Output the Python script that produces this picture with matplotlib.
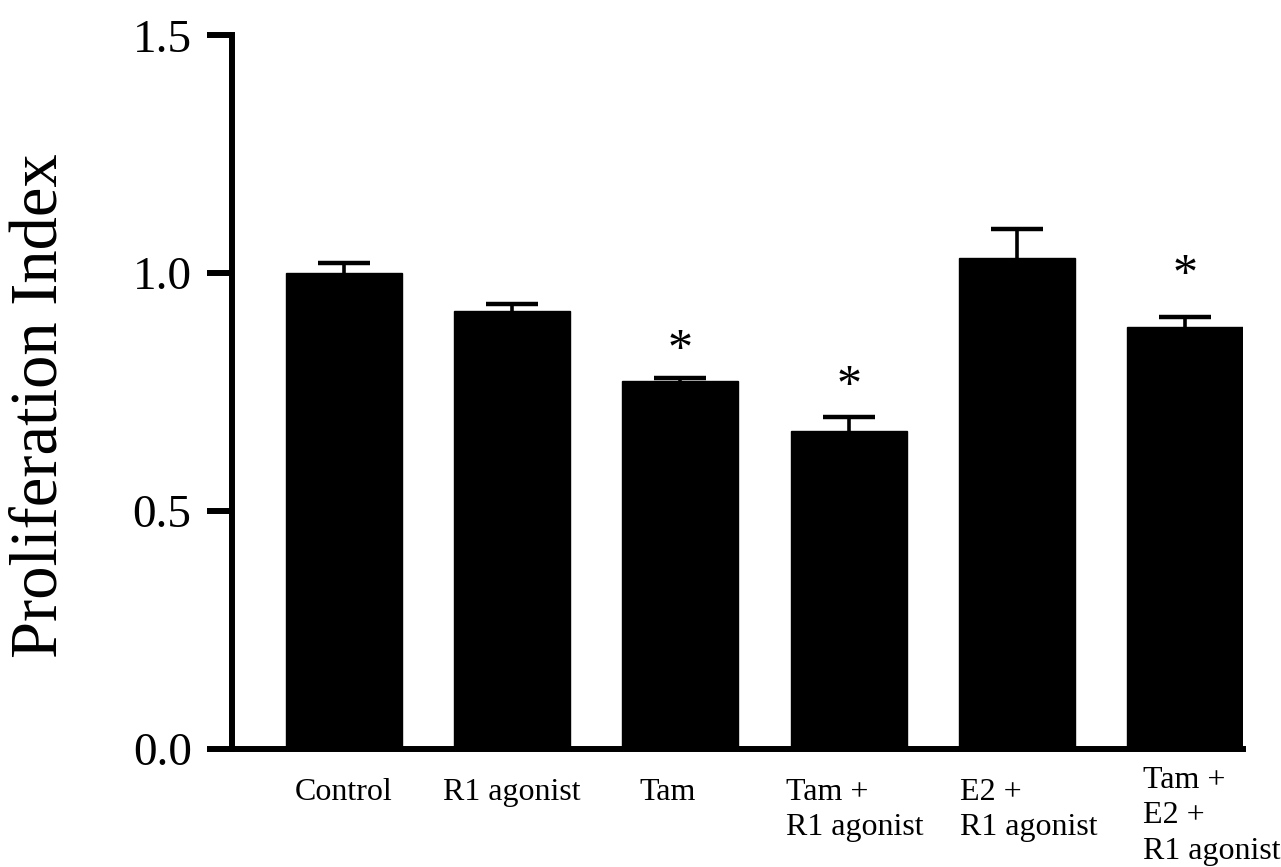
import matplotlib
matplotlib.use("Agg")
import matplotlib.pyplot as plt
import matplotlib.transforms as mtransforms
import numpy as np

categories = ["Control", "R1 agonist", "Tam", "Tam +\nR1 agonist", "E2 +\nR1 agonist", "Tam +\nE2 +\nR1 agonist"]
means = [1.000, 0.921, 0.773, 0.668, 1.032, 0.886]
sem = [0.022, 0.013, 0.006, 0.030, 0.060, 0.022]
significant = [False, False, True, True, False, True]
star_y = [None, None, 0.865, 0.790, None, 1.023]
y_ticks = [0.0, 0.5, 1.0, 1.5]
y_tick_labels = ["0.0", "0.5", "1.0", "1.5"]

plt.rcParams['font.family'] = ['Liberation Serif', 'DejaVu Serif']

fig = plt.figure(figsize=(12.81, 8.67), dpi=100)
ax = fig.add_axes([232/1281, 1 - 748.5/867, (1243-232)/1281, (748.5-35.3)/867])

x = np.arange(len(categories))
ax.bar(x, means, width=0.69, color='black', edgecolor='black', zorder=3)
eb = ax.errorbar(x, means, yerr=[np.zeros(len(means)), sem], fmt='none', ecolor='black',
                 elinewidth=2.6, capsize=19, capthick=3.2, zorder=2)
caplines = eb[1]
if len(caplines) == 2:
    caplines[0].set_visible(False)

fs_star = 36
for xi, sy, sig in zip(x, star_y, significant):
    if sig:
        ax.annotate('*', xy=(xi, sy), xytext=(0, -0.52 * fs_star * 100 / 72),
                    textcoords='offset pixels', ha='center', va='baseline',
                    fontsize=fs_star)

ax.set_ylim(0, 1.5)
ax.set_xlim(-0.666, 5.345)
ax.set_yticks(y_ticks)
ax.set_yticklabels(y_tick_labels, fontsize=34)
ax.tick_params(axis='y', length=18, width=4.3, pad=11, direction='out')
ax.set_xticks(x)
ax.set_xticklabels(categories, fontsize=23, linespacing=1.3, multialignment='left')
ax.tick_params(axis='x', length=0, pad=21)

label_dx = [0, 0, -13, 6, 12, 27]
label_dy = [0, 0, 0, 0, 0, 12]
for lab, dx, dy in zip(ax.get_xticklabels(), label_dx, label_dy):
    lab.set_transform(lab.get_transform() + mtransforms.Affine2D().translate(dx, dy))

for side in ['top', 'right']:
    ax.spines[side].set_visible(False)
for side in ['left', 'bottom']:
    ax.spines[side].set_linewidth(4.3)

fig.text(40/1281, (867-406)/867, "Proliferation Index", fontsize=48, rotation=90,
         ha='center', va='center')

fig.savefig("out.png", dpi=100, facecolor='white')
